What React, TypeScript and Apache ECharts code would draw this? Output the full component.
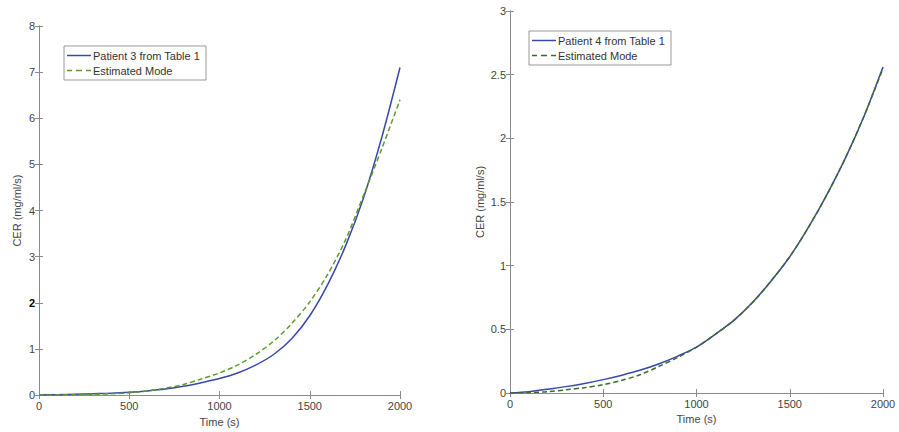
import React, { useEffect, useRef } from "react";
import * as echarts from "echarts";

const timeS = [0, 100, 200, 300, 400, 500, 600, 700, 800, 900, 1000, 1100, 1200, 1300, 1400, 1500, 1600, 1700, 1800, 1900, 2000];

const patient3 = [0, 0.01, 0.02, 0.03, 0.04, 0.06, 0.09, 0.13, 0.19, 0.27, 0.36, 0.48, 0.65, 0.88, 1.22, 1.72, 2.4, 3.25, 4.3, 5.6, 7.1];
const estimated3 = [0, 0.005, 0.01, 0.02, 0.03, 0.05, 0.09, 0.15, 0.23, 0.35, 0.48, 0.65, 0.88, 1.17, 1.55, 2.02, 2.62, 3.38, 4.35, 5.35, 6.4];

const patient4 = [0, 0.01, 0.03, 0.05, 0.075, 0.105, 0.14, 0.18, 0.23, 0.29, 0.36, 0.46, 0.57, 0.71, 0.88, 1.07, 1.3, 1.56, 1.85, 2.18, 2.56];
const estimated4 = [0, 0.003, 0.01, 0.025, 0.042, 0.065, 0.1, 0.145, 0.21, 0.28, 0.36, 0.46, 0.57, 0.71, 0.88, 1.07, 1.3, 1.56, 1.85, 2.18, 2.55];

const xTicks = [0, 500, 1000, 1500, 2000];
const leftYTicks = [0, 1, 2, 3, 4, 5, 6, 7, 8];
const rightYTicks = [0, 0.5, 1, 1.5, 2, 2.5, 3];

const leftNames = ["Patient 3 from Table 1", "Estimated Mode"];
const rightNames = ["Patient 4 from Table 1", "Estimated Mode "];

const FONT = "Liberation Sans";
const LABEL = "#444";
const FRAME = "#8a8a8a";
const BLUE = "#3848a8";
const GREEN = "#5c9a2c";
const DARKGREEN = "#3f6a2a";

const SOLID_ICON = "path://M0,0h24v1.5H0Z";
const DASH_ICON = "path://M0,0h5v1.5H0Z M9,0h6v1.5H9Z M19,0h5v1.5H19Z";

const pairs = (xs: number[], ys: number[]) => xs.map((x, i) => [x, ys[i]]);

export default function App() {
  const ref = useRef<HTMLDivElement>(null);
  useEffect(() => {
    document.body.style.margin = "0";
    const chart = echarts.init(ref.current!, null, { renderer: "svg" });

    const xMain = (gridIndex: number, nameGap: number) => ({
      type: "value",
      gridIndex,
      min: xTicks[0],
      max: xTicks[xTicks.length - 1],
      interval: xTicks[1] - xTicks[0],
      name: "Time (s)",
      nameLocation: "middle",
      nameGap,
      nameTextStyle: { color: LABEL, fontFamily: FONT, fontSize: 11 },
      axisLine: { show: true, lineStyle: { color: FRAME, width: 1 } },
      axisTick: { show: true, inside: true, length: 4, lineStyle: { color: FRAME } },
      axisLabel: { color: LABEL, fontFamily: FONT, fontSize: 11, margin: 5, formatter: (v: number) => String(v) },
      splitLine: { show: false },
    });
    const xTop = (gridIndex: number) => ({
      type: "value",
      gridIndex,
      position: "top",
      min: xTicks[0],
      max: xTicks[xTicks.length - 1],
      interval: xTicks[1] - xTicks[0],
      axisLine: { show: true, lineStyle: { color: FRAME, width: 1 } },
      axisTick: { show: true, inside: true, length: 4, lineStyle: { color: FRAME } },
      axisLabel: { show: false },
      splitLine: { show: false },
    });
    const yMain = (gridIndex: number, ticks: number[], nameGap: number, boldTwo: boolean) => ({
      type: "value",
      gridIndex,
      min: ticks[0],
      max: ticks[ticks.length - 1],
      interval: ticks[1] - ticks[0],
      name: "CER (mg/ml/s)",
      nameLocation: "middle",
      nameGap,
      nameTextStyle: { color: LABEL, fontFamily: FONT, fontSize: 11 },
      axisLine: { show: true, lineStyle: { color: FRAME, width: 1 } },
      axisTick: { show: true, inside: true, length: 4, lineStyle: { color: FRAME } },
      axisLabel: {
        color: LABEL,
        fontFamily: FONT,
        fontSize: 11,
        margin: 4,
        formatter: (v: number) => (boldTwo && v === 2 ? "{b|2}" : String(v)),
        rich: { b: { color: "#000", fontWeight: "bold", fontSize: 11, fontFamily: FONT } },
      },
      splitLine: { show: false },
    });
    const yRight = (gridIndex: number, ticks: number[]) => ({
      type: "value",
      gridIndex,
      position: "right",
      min: ticks[0],
      max: ticks[ticks.length - 1],
      interval: ticks[1] - ticks[0],
      axisLine: { show: true, lineStyle: { color: FRAME, width: 1 } },
      axisTick: { show: true, inside: true, length: 4, lineStyle: { color: FRAME } },
      axisLabel: { show: false },
      splitLine: { show: false },
    });

    const legendBase = {
      orient: "vertical",
      backgroundColor: "#fff",
      borderColor: "#999",
      borderWidth: 1,
      padding: [4, 6, 4, 3],
      itemGap: 4,
      itemWidth: 24,
      itemHeight: 1.5,
      textStyle: { color: "#333", fontFamily: FONT, fontSize: 11, padding: [0, 0, 0, -3] },
      selectedMode: false,
    };

    chart.setOption({
      animation: false,
      backgroundColor: "#fff",
      grid: [
        { left: 39, right: 499, top: 26, bottom: 36 },
        { left: 510, right: 16, top: 11, bottom: 39 },
      ],
      xAxis: [xMain(0, 20), xTop(0), xMain(1, 20), xTop(1)],
      yAxis: [
        yMain(0, leftYTicks, 17, true),
        yRight(0, leftYTicks),
        yMain(1, rightYTicks, 25, false),
        yRight(1, rightYTicks),
      ],
      legend: [
        {
          ...legendBase, left: 64, top: 46,
          data: [
            { name: leftNames[0], icon: SOLID_ICON, itemStyle: { color: BLUE } },
            { name: leftNames[1], icon: DASH_ICON, itemStyle: { color: GREEN } },
          ],
        },
        {
          ...legendBase, left: 529, top: 31,
          data: [
            { name: rightNames[0], icon: SOLID_ICON, itemStyle: { color: BLUE } },
            { name: rightNames[1], icon: DASH_ICON, itemStyle: { color: DARKGREEN } },
          ],
        },
      ],
      series: [
        {
          name: leftNames[0], type: "line", xAxisIndex: 0, yAxisIndex: 0,
          data: pairs(timeS, patient3), smooth: 0.3, showSymbol: false, symbol: "none",
          lineStyle: { color: BLUE, width: 1.5 }, itemStyle: { color: BLUE },
        },
        {
          name: leftNames[1], type: "line", xAxisIndex: 0, yAxisIndex: 0,
          data: pairs(timeS, estimated3), smooth: 0.3, showSymbol: false, symbol: "none",
          lineStyle: { color: GREEN, width: 1.5, type: [5, 3] }, itemStyle: { color: GREEN },
        },
        {
          name: rightNames[0], type: "line", xAxisIndex: 2, yAxisIndex: 2,
          data: pairs(timeS, patient4), smooth: 0.3, showSymbol: false, symbol: "none",
          lineStyle: { color: BLUE, width: 1.5 }, itemStyle: { color: BLUE },
        },
        {
          name: rightNames[1], type: "line", xAxisIndex: 2, yAxisIndex: 2,
          data: pairs(timeS, estimated4), smooth: 0.3, showSymbol: false, symbol: "none",
          lineStyle: { color: DARKGREEN, width: 1.5, type: [5, 3] }, itemStyle: { color: DARKGREEN },
        },
      ],
    });
    return () => chart.dispose();
  }, []);
  return <div ref={ref} style={{ width: 899, height: 432 }} />;
}
